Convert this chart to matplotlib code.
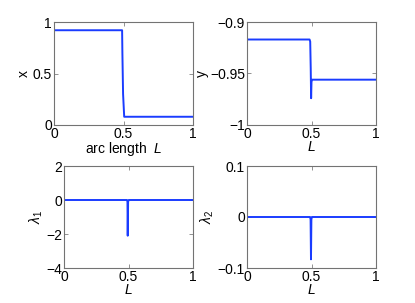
import matplotlib
matplotlib.use('Agg')
import matplotlib.pyplot as plt

plt.rcParams['font.family'] = ['Liberation Sans', 'DejaVu Sans']
plt.rcParams['mathtext.fontset'] = 'custom'
plt.rcParams['mathtext.it'] = 'Liberation Sans:italic'
plt.rcParams['mathtext.rm'] = 'Liberation Sans'
plt.rcParams['font.size'] = 10

# data
L_x = [0.0, 0.49, 0.492, 0.497, 0.505, 1.0]
x_vals = [0.92, 0.92, 0.70, 0.30, 0.08, 0.08]

L_y = [0.0, 0.485, 0.49, 0.494, 0.497, 0.50, 0.505, 1.0]
y_vals = [-0.917, -0.917, -0.919, -0.945, -0.974, -0.958, -0.956, -0.956]

L_l1 = [0.0, 0.488, 0.492, 0.494, 0.497, 0.502, 1.0]
l1_vals = [0.0, 0.0, -0.1, -2.1, -0.1, 0.0, 0.0]

L_l2 = [0.0, 0.489, 0.493, 0.496, 0.499, 0.503, 1.0]
l2_vals = [0.0, 0.0, -0.005, -0.083, -0.005, 0.0, 0.0]

xticks = [0, 0.5, 1]
xticklabels = ['0', '0.5', '1']

panels = [
    (L_x, x_vals, 'x', (0, 1), [0, 0.5, 1], ['0', '0.5', '1'], 'arc length  $L$'),
    (L_y, y_vals, 'y', (-1, -0.9), [-1, -0.95, -0.9], ['\u22121', '\u22120.95', '\u22120.9'], '$L$'),
    (L_l1, l1_vals, '$\\lambda_1$', (-4, 2), [-4, -2, 0, 2], ['\u22124', '\u22122', '0', '2'], '$L$'),
    (L_l2, l2_vals, '$\\lambda_2$', (-0.1, 0.1), [-0.1, 0, 0.1], ['\u22120.1', '0', '0.1'], '$L$'),
]

# axes rectangles in figure fractions (left, bottom, width, height)
W, H = 415.0, 303.0
rects = [
    (54 / W, 1 - 125 / H, 139 / W, 103 / H),
    (247 / W, 1 - 125 / H, 129 / W, 103 / H),
    (64 / W, 1 - 268 / H, 129 / W, 102 / H),
    (247 / W, 1 - 268 / H, 129 / W, 102 / H),
]

fig = plt.figure(figsize=(4.15, 3.03), dpi=100)
for (lx, vals, ylab, ylim, yt, ytl, xlab), r in zip(panels, rects):
    ax = fig.add_axes(r)
    ax.plot(lx, vals, color='#1a3cff', lw=1.4)
    ax.set_xlim(0, 1)
    ax.set_ylim(*ylim)
    ax.set_xticks(xticks)
    ax.set_xticklabels(xticklabels)
    ax.set_yticks(yt)
    ax.set_yticklabels(ytl)
    ax.set_ylabel(ylab, labelpad=1)
    ax.set_xlabel(xlab, labelpad=-1)
    ax.tick_params(direction='in', top=True, right=True, length=3, width=0.5,
                   color='0.4', pad=1.5)
    for s in ax.spines.values():
        s.set_color('0.45')
        s.set_linewidth(0.8)

fig.savefig('out.png', dpi=100)
